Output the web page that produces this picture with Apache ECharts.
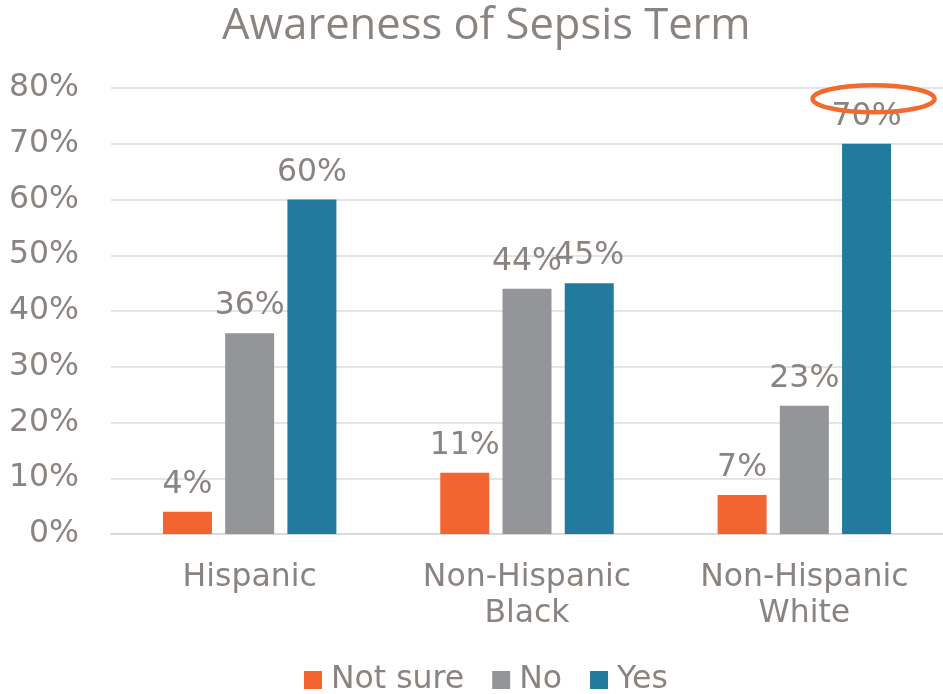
<!DOCTYPE html>
<html>
<head>
<meta charset="utf-8">
<script src="https://cdn.jsdelivr.net/npm/echarts@6/dist/echarts.min.js"></script>
<style>
  html, body { margin: 0; padding: 0; background: #fff; }
  #chart { width: 943px; height: 694px; }
</style>
</head>
<body>
<div id="chart"></div>
<script>
// Survey responses by group (percent)
const categories = ['Hispanic', 'Non-Hispanic\nBlack', 'Non-Hispanic\nWhite'];
const notSure = [4, 11, 7];
const no = [36, 44, 23];
const yes = [60, 45, 70];
const yTicks = [0, 10, 20, 30, 40, 50, 60, 70, 80];

const textColor = '#8a8481';
const font = '"DejaVu Sans", Verdana, sans-serif';
const fs = 31.5;

const chart = echarts.init(document.getElementById('chart'), null, { renderer: 'canvas' });

function barSeries(name, data, color) {
  return {
    name: name,
    type: 'bar',
    data: data,
    barWidth: 49,
    barGap: '27%',
    itemStyle: { color: color },
    label: {
      show: true,
      position: 'top',
      distance: 11,
      formatter: p => p.value + '%',
      color: textColor,
      fontFamily: font,
      fontSize: fs
    }
  };
}

chart.setOption({
  animation: false,
  title: {
    text: 'Awareness of Sepsis Term',
    left: 217,
    top: 0,
    textStyle: { fontFamily: '"Open Sans", sans-serif', fontWeight: 'normal', fontSize: 43.5, color: textColor }
  },
  legend: {
    bottom: -7,
    left: 299,
    itemWidth: 18,
    itemHeight: 18,
    itemGap: 28,
    icon: 'rect',
    textStyle: { fontFamily: font, fontSize: fs, color: textColor, padding: [0, 0, 0, 4] },
    data: ['Not sure', 'No', 'Yes']
  },
  grid: { left: 111, right: 0, top: 88, bottom: 160, containLabel: false },
  xAxis: {
    type: 'category',
    data: categories,
    axisTick: { show: false },
    axisLine: { lineStyle: { color: '#d9d9d9', width: 2 } },
    axisLabel: {
      color: textColor,
      fontFamily: font,
      fontSize: fs,
      lineHeight: 36,
      margin: 26
    }
  },
  yAxis: {
    type: 'value',
    min: yTicks[0],
    max: yTicks[yTicks.length - 1],
    interval: 10,
    axisLine: { show: false },
    axisTick: { show: false },
    splitLine: { lineStyle: { color: '#dddddd', width: 1.5 } },
    axisLabel: {
      formatter: v => v + '%',
      color: textColor,
      fontFamily: font,
      fontSize: fs,
      margin: 32
    }
  },
  series: [
    barSeries('Not sure', notSure, '#f26430'),
    barSeries('No', no, '#939598'),
    barSeries('Yes', yes, '#237a9f')
  ]
});

// Highlight ring around the label of the largest "Yes" bar
const maxIdx = yes.indexOf(Math.max(...yes));
const layout = chart.getModel().getSeriesByIndex(2).getData().getItemLayout(maxIdx);
const barCx = layout.x + layout.width / 2;
const barTop = Math.min(layout.y, layout.y + layout.height);
chart.setOption({
  graphic: [{
    type: 'ellipse',
    shape: { cx: barCx + 7, cy: barTop - 45, rx: 61, ry: 13.5 },
    style: { fill: 'none', stroke: '#f26a2e', lineWidth: 4.5 },
    z: 100
  }]
});
</script>
</body>
</html>
